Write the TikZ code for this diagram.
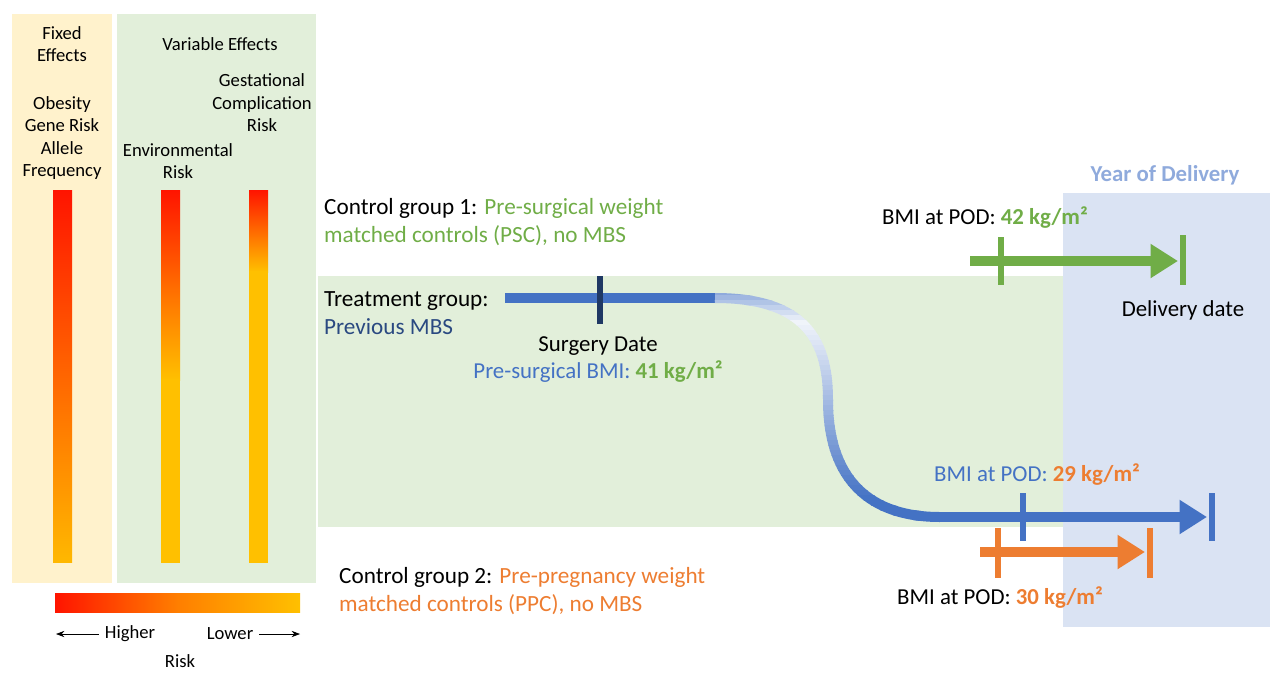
\documentclass[tikz,border=0pt]{standalone}
\usepackage{fontspec}
\setmainfont{Carlito}
\usetikzlibrary{positioning,arrows.meta}
\definecolor{fixbg}{RGB}{255,242,204}
\definecolor{varbg}{RGB}{226,239,218}
\definecolor{yearbg}{RGB}{218,227,243}
\definecolor{ygreen}{RGB}{112,173,71}
\definecolor{yblue}{RGB}{68,114,196}
\definecolor{yorange}{RGB}{237,125,49}
\definecolor{ynavy}{RGB}{31,56,100}
\definecolor{ytitle}{RGB}{143,170,220}
\definecolor{yred}{RGB}{255,20,0}
\definecolor{yyel}{RGB}{255,192,0}
\definecolor{ymid}{RGB}{255,110,0}
\begin{document}
\begin{tikzpicture}[x=0.02cm,y=-0.02cm,
    small/.style={font=\fontsize{10.6}{12.8}\selectfont,align=center},
    txt/.style={font=\fontsize{13.2}{15.8}\selectfont,align=left,anchor=west},
    lbl/.style={font=\fontsize{13}{15}\selectfont},
    timeline/.style={line width=0.2cm},
    tick/.style={line width=0.11cm},
    tip/.style={-{Triangle[length=0.55cm,width=0.65cm]}}]
    %
    \useasboundingbox (0,0) rectangle (1280,679);
    % panels
    \fill[fixbg] (12,14) rectangle (112,583);
    \fill[varbg] (117,14) rectangle (316,583);
    \fill[varbg] (318,276) rectangle (1065,527);
    \fill[yearbg] (1063,193) rectangle (1270,627);
    %
    % risk bars
    \shade[top color=yred,bottom color=yyel!90!ymid] (53,190) rectangle (72,562);
    \shade[top color=yred,bottom color=yyel] (161,190) rectangle (180,380);
    \fill[yyel] (161,379) rectangle (180,563);
    \shade[top color=yred,bottom color=yyel] (249,190) rectangle (268,272);
    \fill[yyel] (249,271) rectangle (268,563);
    \shade[left color=yred,right color=yyel,middle color=ymid!80!yyel] (55,593) rectangle (300,612);
    %
    \node[small] (fixed) at (62,44) {Fixed\\Effects};
    \node[small] (gene) at (62,138) {Obesity\\Gene Risk\\Allele\\Frequency};
    \node[small] (variable) at (220,44) {Variable Effects};
    \node[small] (gest) at (262,103) {Gestational\\Complication\\Risk};
    \node[small] (env) at (178,161) {Environmental\\Risk};
    \node[small] (higher) at (130,634) {Higher};
    \node[small] (lower) at (230,634) {Lower};
    \node[small] (risk) at (180,661) {Risk};
    \coordinate (hl) at (56,634);
    \coordinate (lr) at (300,634);
    \draw[-Stealth] (higher) -- (hl);
    \draw[-Stealth] (lower) -- (lr);
    %
    % group texts
    \node[txt] (ctrl1) at (318,222) {Control group 1: \textcolor{ygreen}{Pre-surgical weight}\\\textcolor{ygreen}{matched controls (PSC), no MBS}};
    \node[txt] (treat) at (318,313) {Treatment group:\\\textcolor{ynavy!70!yblue}{Previous MBS}};
    \node[txt] (ctrl2) at (333,591) {Control group 2: \textcolor{yorange}{Pre-pregnancy weight}\\\textcolor{yorange}{matched controls (PPC), no MBS}};
    \node[lbl,font=\fontsize{13}{15}\selectfont\bfseries,text=ytitle] (year) at (1165,175) {Year of Delivery};
    %
    % treatment timeline
    \coordinate (tstart) at (505,298);
    \coordinate (tbend) at (715,298);
    \coordinate (tlow) at (940,517);
    \coordinate (tend) at (1207,517);
    \draw[timeline,yblue] (tstart) -- (tbend);
    \draw[timeline,yblue!60!white] (tbend) -- ++(10,0);
    \foreach \i in {0,...,47}{
        \pgfmathsetmacro{\ya}{290+5*\i}
        \pgfmathsetmacro{\yb}{\ya+5.5}
        \pgfmathsetmacro{\c}{\i<6 ? 60-9*\i : min(100,8+2.6*(\i-6))}
        \begin{scope}
            \clip (700,\ya) rectangle (960,\yb);
            \draw[timeline,yblue!\c!white] (tbend) .. controls (805,298) and (828,340) .. (828,400)
                .. controls (828,480) and (870,517) .. (tlow);
        \end{scope}
    }
    \draw[timeline,yblue,tip] (tlow) -- (tend);
    \draw[tick,ynavy] (600,276) -- (600,324);
    \draw[tick,yblue] (1023,493) -- (1023,541);
    \draw[tick,yblue] (1212,493) -- (1212,541);
    \node[lbl] (surgery) at (598,346) {Surgery Date};
    \node[lbl,text=yblue] (presurg) at (598,372) {Pre-surgical BMI: \textcolor{ygreen}{\bfseries 41 kg/m²}};
    \node[lbl,text=yblue] (pod29) at (1037,475) {BMI at POD: \textcolor{yorange}{\bfseries 29 kg/m²}};
    %
    % PSC timeline
    \coordinate (gstart) at (970,261);
    \coordinate (gend) at (1178,261);
    \draw[timeline,ygreen,tip] (gstart) -- (gend);
    \draw[tick,ygreen] (1001,237) -- (1001,285);
    \draw[tick,ygreen] (1183,235) -- (1183,285);
    \node[lbl] (pod42) at (985,218) {BMI at POD: \textcolor{ygreen}{\bfseries 42 kg/m²}};
    \node[lbl] (delivery) at (1183,310) {Delivery date};
    %
    % PPC timeline
    \coordinate (ostart) at (980,552);
    \coordinate (oend) at (1145,552);
    \draw[timeline,yorange,tip] (ostart) -- (oend);
    \draw[tick,yorange] (998,528) -- (998,578);
    \draw[tick,yorange] (1150,528) -- (1150,578);
    \node[lbl] (pod30) at (1000,598) {BMI at POD: \textcolor{yorange}{\bfseries 30 kg/m²}};
    %
\end{tikzpicture}
\end{document}
